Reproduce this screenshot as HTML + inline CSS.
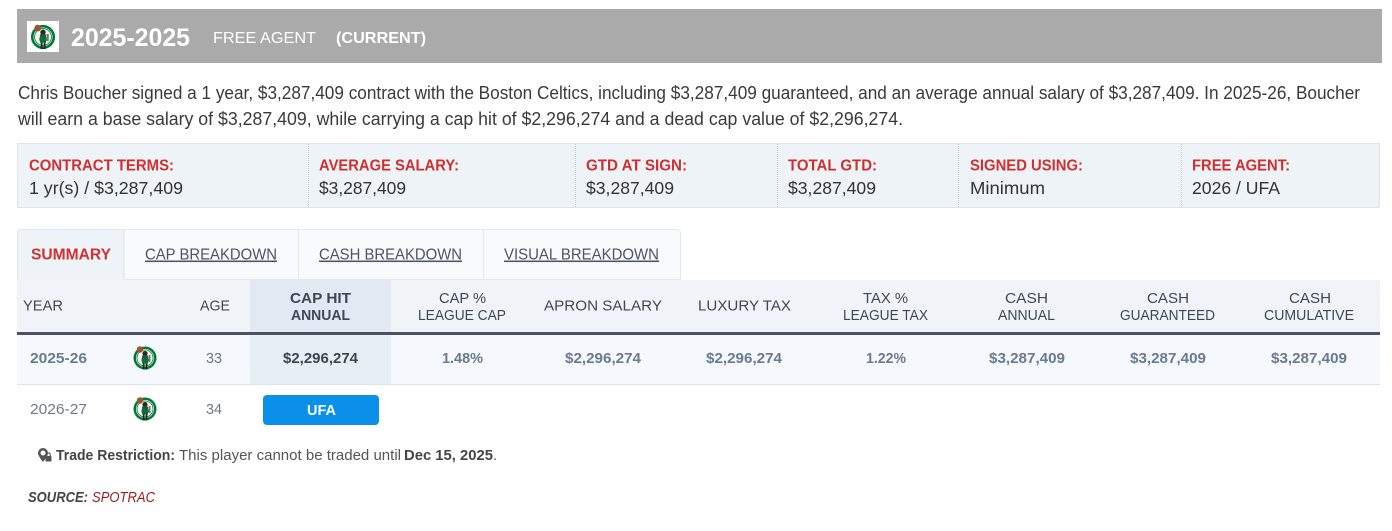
<!DOCTYPE html>
<html><head><meta charset="utf-8"><style>
html,body{margin:0;padding:0;background:#fff;width:1392px;height:531px;overflow:hidden}
svg{display:block}
text{font-family:"Liberation Sans",Arial,sans-serif}
</style></head><body>
<svg width="1392" height="531" viewBox="0 0 1392 531" xmlns="http://www.w3.org/2000/svg">
<defs>
<g id="logo">
  <circle cx="0" cy="0" r="11.5" fill="#007a33"/>
  <circle cx="0" cy="0" r="9" fill="#fff"/>
  <circle cx="0" cy="0" r="8" fill="none" stroke="#007a33" stroke-width="0.8"/>
  <circle cx="-5" cy="-8.5" r="3.2" fill="#a0522d"/>
  <ellipse cx="0" cy="-4.5" rx="2.6" ry="2.6" fill="#2b2b2b"/>
  <rect x="-3" y="-2.5" width="6" height="8" fill="#1f5f2f"/>
  <rect x="-3.5" y="0.5" width="7" height="3" fill="#007a33"/>
  <rect x="-2.2" y="5.5" width="1.8" height="6" fill="#222"/>
  <rect x="0.6" y="5.5" width="1.8" height="6" fill="#222"/>
  <rect x="3.5" y="-3" width="2" height="7" fill="#777"/>
</g>
</defs>

<!-- Header bar -->
<rect x="17" y="9" width="1365" height="54" fill="#aaaaaa"/>
<rect x="27" y="21" width="32" height="31" fill="#fff"/>
<use href="#logo" transform="translate(43,37) scale(1.05)"/>
<text x="71" y="46" font-size="25" font-weight="bold" fill="#fff" textLength="119" lengthAdjust="spacingAndGlyphs">2025-2025</text>
<text x="213" y="43" font-size="16" fill="#fff" textLength="103" lengthAdjust="spacingAndGlyphs">FREE AGENT</text>
<text x="336" y="43" font-size="16" font-weight="bold" fill="#fff" textLength="90" lengthAdjust="spacingAndGlyphs">(CURRENT)</text>

<!-- Paragraph -->
<text x="18" y="99" font-size="18" fill="#3a3a3a" textLength="1342" lengthAdjust="spacingAndGlyphs">Chris Boucher signed a 1 year, $3,287,409 contract with the Boston Celtics, including $3,287,409 guaranteed, and an average annual salary of $3,287,409. In 2025-26, Boucher</text>
<text x="18" y="125" font-size="18" fill="#3a3a3a" textLength="885" lengthAdjust="spacingAndGlyphs">will earn a base salary of $3,287,409, while carrying a cap hit of $2,296,274 and a dead cap value of $2,296,274.</text>

<!-- Info box -->
<rect x="17.5" y="143.5" width="1362" height="64" fill="#eef3f8" stroke="#c9ced6" stroke-dasharray="1,1"/>
<g stroke="#c9ced6" stroke-dasharray="1,1">
  <line x1="308.5" y1="144" x2="308.5" y2="207"/>
  <line x1="575.5" y1="144" x2="575.5" y2="207"/>
  <line x1="777.5" y1="144" x2="777.5" y2="207"/>
  <line x1="958.5" y1="144" x2="958.5" y2="207"/>
  <line x1="1181.5" y1="144" x2="1181.5" y2="207"/>
</g>
<g font-size="15.5" font-weight="bold" fill="#d12f2f">
  <text x="29" y="170.5" textLength="145" lengthAdjust="spacingAndGlyphs">CONTRACT TERMS:</text>
  <text x="319" y="170.5" textLength="140" lengthAdjust="spacingAndGlyphs">AVERAGE SALARY:</text>
  <text x="586" y="170.5" textLength="101" lengthAdjust="spacingAndGlyphs">GTD AT SIGN:</text>
  <text x="788" y="170.5" textLength="89" lengthAdjust="spacingAndGlyphs">TOTAL GTD:</text>
  <text x="970" y="170.5" textLength="113" lengthAdjust="spacingAndGlyphs">SIGNED USING:</text>
  <text x="1192" y="170.5" textLength="98" lengthAdjust="spacingAndGlyphs">FREE AGENT:</text>
</g>
<g font-size="17.5" fill="#333">
  <text x="29" y="194" textLength="154" lengthAdjust="spacingAndGlyphs">1 yr(s) / $3,287,409</text>
  <text x="319" y="194" textLength="87" lengthAdjust="spacingAndGlyphs">$3,287,409</text>
  <text x="586" y="194" textLength="88" lengthAdjust="spacingAndGlyphs">$3,287,409</text>
  <text x="788" y="194" textLength="88" lengthAdjust="spacingAndGlyphs">$3,287,409</text>
  <text x="970" y="194" textLength="75" lengthAdjust="spacingAndGlyphs">Minimum</text>
  <text x="1192" y="194" textLength="88" lengthAdjust="spacingAndGlyphs">2026 / UFA</text>
</g>

<!-- Tabs -->
<path d="M17.5,280 V233 Q17.5,229.5 21,229.5 H676 Q680.5,229.5 680.5,234 V279.5 H124" fill="#f8fafc" stroke="#e2e8f0"/>
<rect x="17.5" y="229.5" width="106.5" height="51" fill="#eef3f8"/>
<path d="M17.5,281 V233 Q17.5,229.5 21,229.5 H124" fill="none" stroke="#e2e8f0"/>
<line x1="124" y1="229.5" x2="124" y2="280" stroke="#e2e8f0" stroke-width="1.5"/>
<line x1="298.5" y1="230" x2="298.5" y2="279" stroke="#e2e8f0"/>
<line x1="483.5" y1="230" x2="483.5" y2="279" stroke="#e2e8f0"/>
<text x="31" y="259.5" font-size="15.5" font-weight="bold" fill="#d32f2f" textLength="80" lengthAdjust="spacingAndGlyphs">SUMMARY</text>
<g font-size="15.5" fill="#4a5568" text-decoration="underline">
  <text x="145" y="259.5" textLength="132" lengthAdjust="spacingAndGlyphs">CAP BREAKDOWN</text>
  <text x="319" y="259.5" textLength="143" lengthAdjust="spacingAndGlyphs">CASH BREAKDOWN</text>
  <text x="504" y="259.5" textLength="155" lengthAdjust="spacingAndGlyphs">VISUAL BREAKDOWN</text>
</g>

<!-- Table header -->
<rect x="17" y="280" width="1363" height="52" fill="#f0f4f9"/>
<rect x="250" y="280" width="141" height="52" fill="#e3e9f2"/>
<rect x="17" y="332" width="1363" height="3" fill="#4a5366"/>
<g font-size="15" fill="#3e4757">
  <text x="23" y="310.5" textLength="40" lengthAdjust="spacingAndGlyphs">YEAR</text>
  <text x="200" y="310.5" textLength="30" lengthAdjust="spacingAndGlyphs">AGE</text>
  <text x="290" y="303" font-weight="bold" textLength="61" lengthAdjust="spacingAndGlyphs">CAP HIT</text>
  <text x="291" y="320" font-weight="bold" textLength="59" lengthAdjust="spacingAndGlyphs">ANNUAL</text>
  <text x="439" y="303" textLength="47" lengthAdjust="spacingAndGlyphs">CAP %</text>
  <text x="418" y="320" textLength="88" lengthAdjust="spacingAndGlyphs">LEAGUE CAP</text>
  <text x="544" y="310.5" textLength="118" lengthAdjust="spacingAndGlyphs">APRON SALARY</text>
  <text x="698" y="310.5" textLength="93" lengthAdjust="spacingAndGlyphs">LUXURY TAX</text>
  <text x="863" y="303" textLength="45" lengthAdjust="spacingAndGlyphs">TAX %</text>
  <text x="843" y="320" textLength="85" lengthAdjust="spacingAndGlyphs">LEAGUE TAX</text>
  <text x="1005" y="303" textLength="43" lengthAdjust="spacingAndGlyphs">CASH</text>
  <text x="998" y="320" textLength="57" lengthAdjust="spacingAndGlyphs">ANNUAL</text>
  <text x="1147" y="303" textLength="42" lengthAdjust="spacingAndGlyphs">CASH</text>
  <text x="1120" y="320" textLength="95" lengthAdjust="spacingAndGlyphs">GUARANTEED</text>
  <text x="1289" y="303" textLength="42" lengthAdjust="spacingAndGlyphs">CASH</text>
  <text x="1264" y="320" textLength="90" lengthAdjust="spacingAndGlyphs">CUMULATIVE</text>
</g>

<!-- Row 1 -->
<rect x="17" y="335" width="1363" height="49" fill="#f5f8fc"/>
<rect x="250" y="335" width="141" height="49" fill="#e8eef6"/>
<rect x="17" y="384" width="1363" height="1" fill="#dde3ec"/>
<use href="#logo" transform="translate(145,358)"/>
<g font-size="14.5" font-weight="bold" fill="#6b7a90">
  <text x="30" y="363" textLength="57" lengthAdjust="spacingAndGlyphs">2025-26</text>
  <text x="206" y="363" font-weight="normal" textLength="16" lengthAdjust="spacingAndGlyphs">33</text>
  <text x="283" y="363" fill="#3e4450" textLength="75" lengthAdjust="spacingAndGlyphs">$2,296,274</text>
  <text x="442" y="363" textLength="41" lengthAdjust="spacingAndGlyphs">1.48%</text>
  <text x="565" y="363" textLength="76" lengthAdjust="spacingAndGlyphs">$2,296,274</text>
  <text x="706" y="363" textLength="76" lengthAdjust="spacingAndGlyphs">$2,296,274</text>
  <text x="866" y="363" textLength="40" lengthAdjust="spacingAndGlyphs">1.22%</text>
  <text x="989" y="363" textLength="76" lengthAdjust="spacingAndGlyphs">$3,287,409</text>
  <text x="1130" y="363" textLength="76" lengthAdjust="spacingAndGlyphs">$3,287,409</text>
  <text x="1271" y="363" textLength="76" lengthAdjust="spacingAndGlyphs">$3,287,409</text>
</g>

<!-- Row 2 -->
<use href="#logo" transform="translate(145,409)"/>
<g font-size="14.5" fill="#6b7a90">
  <text x="30" y="414" textLength="57" lengthAdjust="spacingAndGlyphs">2026-27</text>
  <text x="206" y="414" textLength="16" lengthAdjust="spacingAndGlyphs">34</text>
</g>
<rect x="263" y="395" width="116" height="30" rx="4" fill="#0a90e8"/>
<text x="307" y="415" font-size="14.5" font-weight="bold" fill="#fff" textLength="29" lengthAdjust="spacingAndGlyphs">UFA</text>

<!-- Trade restriction -->
<g fill="#555">
  <path d="M43,448 a5,5 0 0 1 5,5 c0,3 -5,9 -5,9 c0,0 -5,-6 -5,-9 a5,5 0 0 1 5,-5z M43,450.5 a2.5,2.5 0 1 0 0.01,0z" fill-rule="evenodd"/>
  <rect x="45.5" y="456" width="6" height="5.5" rx="0.8" fill="#555"/>
  <path d="M46.8,456 v-1.5 a1.7,1.7 0 0 1 3.4,0 v1.5" fill="none" stroke="#555" stroke-width="1.1"/>
</g>
<text x="56" y="460" font-size="14.5" font-weight="bold" fill="#444" textLength="119" lengthAdjust="spacingAndGlyphs">Trade Restriction:</text>
<text x="179" y="460" font-size="14.5" fill="#555" textLength="222" lengthAdjust="spacingAndGlyphs">This player cannot be traded until</text>
<text x="404" y="460" font-size="14.5" font-weight="bold" fill="#444" textLength="89" lengthAdjust="spacingAndGlyphs">Dec 15, 2025</text>
<text x="493" y="460" font-size="14.5" fill="#555">.</text>

<!-- Source -->
<text x="28" y="502" font-size="14.5" font-weight="bold" font-style="italic" fill="#444" textLength="60" lengthAdjust="spacingAndGlyphs">SOURCE:</text>
<text x="92" y="502" font-size="14.5" font-style="italic" fill="#9b1c1c" textLength="63" lengthAdjust="spacingAndGlyphs">SPOTRAC</text>
</svg>
</body></html>
